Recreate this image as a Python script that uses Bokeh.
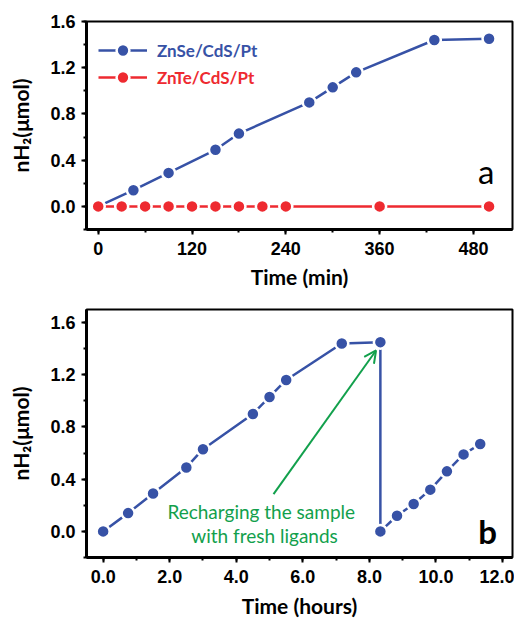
from bokeh.plotting import figure
from bokeh.models import (Range1d, SingleIntervalTicker, PrintfTickFormatter, Legend,
                          LegendItem, Label, Arrow, OpenHead)
from bokeh.layouts import column
from bokeh.embed import file_html
from bokeh.resources import INLINE

# ---------------- data ----------------
a_time_znse = [0, 45, 90, 150, 180, 270, 300, 330, 430, 500]
a_h2_znse = [0.0, 0.14, 0.29, 0.49, 0.63, 0.90, 1.03, 1.16, 1.44, 1.45]
a_time_znte = [0, 30, 60, 90, 120, 150, 180, 210, 240, 360, 500]
a_h2_znte = [0.0, 0.0, 0.0, 0.0, 0.0, 0.0, 0.0, 0.0, 0.0, 0.0, 0.0]

b_hours = [0.0, 0.75, 1.5, 2.5, 3.0, 4.5, 5.0, 5.5, 7.17, 8.33, 8.33,
           8.83, 9.33, 9.83, 10.33, 10.83, 11.33]
b_h2 = [0.0, 0.14, 0.29, 0.49, 0.63, 0.90, 1.03, 1.16, 1.44, 1.45, 0.0,
        0.12, 0.21, 0.32, 0.46, 0.59, 0.67]

series_labels = ["ZnSe/CdS/Pt", "ZnTe/CdS/Pt"]
x_label_a = "Time (min)"
x_label_b = "Time (hours)"
y_label = "nH\u2082(\u03bcmol)"
note_lines = ["Recharging the sample", "with fresh ligands"]

BLUE = "#3752a6"
RED = "#ee2a30"
GREEN = "#12a04c"


def style(p, xint, yint, xfmt, xstandoff):
    p.background_fill_color = "white"
    p.border_fill_color = "white"
    p.outline_line_color = "black"
    p.outline_line_width = 2
    p.xgrid.visible = False
    p.ygrid.visible = False
    p.xaxis.ticker = SingleIntervalTicker(interval=xint, num_minor_ticks=2)
    p.yaxis.ticker = SingleIntervalTicker(interval=yint, num_minor_ticks=2)
    p.xaxis.formatter = PrintfTickFormatter(format=xfmt)
    p.yaxis.formatter = PrintfTickFormatter(format="%.1f")
    for ax in (p.xaxis, p.yaxis):
        ax.axis_line_width = 3
        ax.axis_line_color = "black"
        ax.major_tick_line_width = 2
        ax.minor_tick_line_width = 2
        ax.major_tick_out = 5
        ax.major_tick_in = 0
        ax.minor_tick_out = 3
        ax.minor_tick_in = 0
        ax.major_label_text_font = "Liberation Sans"
        ax.major_label_text_font_style = "bold"
        ax.major_label_text_font_size = "18px"
        ax.major_label_text_color = "black"
        ax.axis_label_text_font = "Lato"
        ax.axis_label_text_font_style = "bold"
        ax.axis_label_text_font_size = "21px"
        ax.axis_label_text_color = "black"
    p.xaxis.major_label_standoff = 7
    p.yaxis.major_label_standoff = 6
    p.xaxis.axis_label_standoff = xstandoff
    p.yaxis.axis_label_standoff = 14


# ---------------- panel a ----------------
pa = figure(width=514, height=295, output_backend="svg", toolbar_location=None,
            x_range=Range1d(-15, 530), y_range=Range1d(-0.2, 1.6),
            min_border_left=86, min_border_right=2, min_border_top=21,
            min_border_bottom=66)
style(pa, 120, 0.4, "%d", 6)
pa.xaxis.axis_label = x_label_a
pa.yaxis.axis_label = y_label

l1 = pa.line(a_time_znse, a_h2_znse, line_color=BLUE, line_width=2.5)
s1 = pa.scatter(a_time_znse, a_h2_znse, size=13, fill_color=BLUE,
                line_color="white", line_width=2.5)
l2 = pa.line(a_time_znte, a_h2_znte, line_color=RED, line_width=2.5)
s2 = pa.scatter(a_time_znte, a_h2_znte, size=13, fill_color=RED,
                line_color="white", line_width=2.5)

for rends, label, color, ly in ((
        [l1, s1], series_labels[0], BLUE, 163), ([l2, s2], series_labels[1], RED, 136)):
    lg = Legend(items=[LegendItem(label=label, renderers=rends)],
                location=(12, ly), padding=0, margin=0, spacing=0,
                glyph_width=49, glyph_height=32, label_standoff=10,
                label_text_font="Lato", label_text_font_style="bold",
                label_text_font_size="17px", label_text_color=color,
                border_line_color=None, background_fill_alpha=0)
    pa.add_layout(lg, "center")

pa.add_layout(Label(x=507, y=0.31, text="a", text_align="right",
                    text_baseline="alphabetic", text_font="Lato",
                    text_font_size="33px", text_color="black"))

# ---------------- panel b ----------------
pb = figure(width=514, height=325, output_backend="svg", toolbar_location=None,
            x_range=Range1d(-0.5, 12.3), y_range=Range1d(-0.2, 1.7),
            min_border_left=86, min_border_right=2, min_border_top=14,
            min_border_bottom=62)
style(pb, 2, 0.4, "%.1f", 7)
pb.xaxis.axis_label = x_label_b
pb.yaxis.axis_label = y_label

pb.line(b_hours, b_h2, line_color=BLUE, line_width=2.5)
pb.scatter(b_hours, b_h2, size=13, fill_color=BLUE, line_color="white",
           line_width=2.5)

pb.add_layout(Arrow(end=OpenHead(size=12, line_color=GREEN, line_width=2),
                    x_start=5.12, y_start=0.285, x_end=8.2, y_end=1.386,
                    line_color=GREEN, line_width=2))
pb.add_layout(Label(x=4.75, y=0.15, text=note_lines[0], text_align="center",
                    text_baseline="alphabetic", text_font="Lato",
                    text_font_size="19px", text_color=GREEN))
pb.add_layout(Label(x=4.85, y=-0.03, text=note_lines[1], text_align="center",
                    text_baseline="alphabetic", text_font="Lato",
                    text_font_size="19px", text_color=GREEN))
pb.add_layout(Label(x=11.83, y=0.006, text="b", text_align="right",
                    text_baseline="alphabetic", text_font="Lato",
                    text_font_style="bold", text_font_size="33px",
                    text_color="black"))

layout = column(pa, pb, spacing=0)
open("out.html", "w").write(file_html(layout, INLINE))
